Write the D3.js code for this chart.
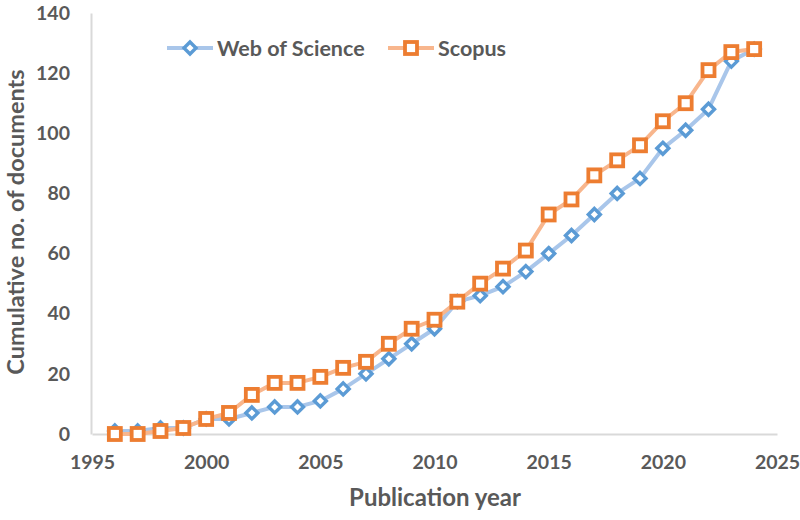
<!DOCTYPE html>
<html>
<head>
<meta charset="utf-8">
<script src="https://cdn.jsdelivr.net/npm/d3@7"></script>
<style>
  html, body { margin: 0; padding: 0; background: #ffffff; }
  svg { display: block; }
  text { font-family: Lato, "Open Sans", sans-serif; font-weight: bold; fill: #595959; }
</style>
</head>
<body>
<svg id="chart" width="800" height="520"></svg>
<script>
// ---- data ----
const years = [1996,1997,1998,1999,2000,2001,2002,2003,2004,2005,2006,2007,2008,2009,2010,
               2011,2012,2013,2014,2015,2016,2017,2018,2019,2020,2021,2022,2023,2024];
const webOfScience = [1,1,2,2,5,5,7,9,9,11,15,20,25,30,35,
                      44,46,49,54,60,66,73,80,85,95,101,108,124,128];
const scopus = [0,0,1,2,5,7,13,17,17,19,22,24,30,35,38,
                44,50,55,61,73,78,86,91,96,104,110,121,127,128];
const xTicks = [1995,2000,2005,2010,2015,2020,2025];
const yTicks = [0,20,40,60,80,100,120,140];
const seriesNames = ["Web of Science","Scopus"];

// ---- layout ----
const svg = d3.select("#chart");
const x = d3.scaleLinear().domain([1995, 2025]).range([92, 777]);
const y = d3.scaleLinear().domain([0, 140]).range([434, 13]);
const axisColor = "#d9d9d9";

// axes
const xAxis = svg.append("g").attr("transform", `translate(0,${y(0)})`)
  .call(d3.axisBottom(x).tickValues(xTicks).tickFormat(d3.format("d")).tickSize(0).tickPadding(21));
xAxis.select(".domain").attr("stroke", axisColor).attr("stroke-width", 2);
xAxis.selectAll("text").style("font-size", "19.5px").attr("fill", "#595959");

const yAxis = svg.append("g").attr("transform", `translate(${x(1995) - 1},0)`)
  .call(d3.axisLeft(y).tickValues(yTicks).tickSize(0).tickPadding(21));
yAxis.select(".domain").attr("stroke", axisColor).attr("stroke-width", 2);
yAxis.selectAll("text").style("font-size", "19.5px").attr("fill", "#595959");
xAxis.selectAll("text").attr("dy", "0.71em");

// titles
svg.append("text").attr("x", 435).attr("y", 506).attr("text-anchor", "middle")
  .style("font-size", "24px").text("Publication year");
svg.append("text").attr("transform", `translate(24,222) rotate(-90)`).attr("text-anchor", "middle")
  .style("font-size", "23.5px").text("Cumulative no. of documents");

// series
const lineGen = d3.line().x((d, i) => x(years[i])).y(d => y(d));
const colors = [{line: "#a9c6ea", mark: "#5b9bd5"}, {line: "#f8b68d", mark: "#ed7d31"}];
const diamond = s => `M0,${-s}L${s},0L0,${s}L${-s},0Z`;

function drawSeries(vals, k) {
  const g = svg.append("g");
  g.append("path").datum(vals).attr("d", lineGen).attr("fill", "none")
    .attr("stroke", colors[k].line).attr("stroke-width", 4).attr("stroke-linejoin", "round");
  if (k === 0) {
    g.selectAll("path.m").data(vals).enter().append("path").attr("class", "m")
      .attr("d", diamond(6))
      .attr("transform", (d, i) => `translate(${x(years[i])},${y(d)})`)
      .attr("fill", "#ffffff").attr("stroke", colors[k].mark).attr("stroke-width", 3.4);
  } else {
    g.selectAll("rect.m").data(vals).enter().append("rect").attr("class", "m")
      .attr("x", (d, i) => x(years[i]) - 6).attr("y", d => y(d) - 6)
      .attr("width", 12).attr("height", 12)
      .attr("fill", "#ffffff").attr("stroke", colors[k].mark).attr("stroke-width", 3.8);
  }
}
drawSeries(webOfScience, 0);
drawSeries(scopus, 1);

// legend
const legendItems = [{x0: 167, name: seriesNames[0], k: 0}, {x0: 388, name: seriesNames[1], k: 1}];
legendItems.forEach(it => {
  const g = svg.append("g").attr("transform", `translate(${it.x0},48)`);
  g.append("line").attr("x1", 0).attr("x2", 46).attr("y1", 0).attr("y2", 0)
    .attr("stroke", colors[it.k].line).attr("stroke-width", 4);
  if (it.k === 0) {
    g.append("path").attr("d", diamond(6)).attr("transform", "translate(23,0)")
      .attr("fill", "#fff").attr("stroke", colors[0].mark).attr("stroke-width", 3.4);
  } else {
    g.append("rect").attr("x", 17).attr("y", -6).attr("width", 12).attr("height", 12)
      .attr("fill", "#fff").attr("stroke", colors[1].mark).attr("stroke-width", 3.8);
  }
  g.append("text").attr("x", 50).attr("y", 7.5).style("font-size", "21.5px").text(it.name);
});
</script>
</body>
</html>
